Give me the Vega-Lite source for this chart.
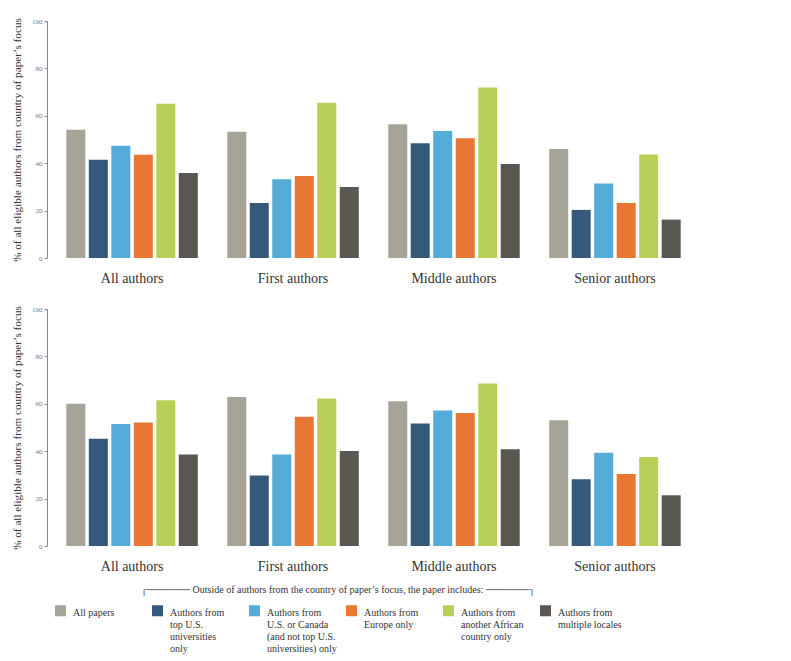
{
  "$schema": "https://vega.github.io/schema/vega-lite/v6.json",
  "background": "white",
  "padding": {"left": 11, "top": 17, "right": 5, "bottom": 5},
  "config": {
    "font": "Liberation Serif",
    "view": {"stroke": null},
    "concat": {"spacing": 20}
  },
  "datasets": {
    "bars": [
      {"panel": "A", "author": "All authors", "series": "All papers", "pct": 54.1},
      {"panel": "A", "author": "All authors", "series": "Authors from top U.S. universities only", "pct": 41.5},
      {"panel": "A", "author": "All authors", "series": "Authors from U.S. or Canada (and not top U.S. universities) only", "pct": 47.4},
      {"panel": "A", "author": "All authors", "series": "Authors from Europe only", "pct": 43.6},
      {"panel": "A", "author": "All authors", "series": "Authors from another African country only", "pct": 65.1},
      {"panel": "A", "author": "All authors", "series": "Authors from multiple locales", "pct": 35.9},
      {"panel": "A", "author": "First authors", "series": "All papers", "pct": 53.3},
      {"panel": "A", "author": "First authors", "series": "Authors from top U.S. universities only", "pct": 23.2},
      {"panel": "A", "author": "First authors", "series": "Authors from U.S. or Canada (and not top U.S. universities) only", "pct": 33.2},
      {"panel": "A", "author": "First authors", "series": "Authors from Europe only", "pct": 34.6},
      {"panel": "A", "author": "First authors", "series": "Authors from another African country only", "pct": 65.5},
      {"panel": "A", "author": "First authors", "series": "Authors from multiple locales", "pct": 30.0},
      {"panel": "A", "author": "Middle authors", "series": "All papers", "pct": 56.4},
      {"panel": "A", "author": "Middle authors", "series": "Authors from top U.S. universities only", "pct": 48.4},
      {"panel": "A", "author": "Middle authors", "series": "Authors from U.S. or Canada (and not top U.S. universities) only", "pct": 53.6},
      {"panel": "A", "author": "Middle authors", "series": "Authors from Europe only", "pct": 50.5},
      {"panel": "A", "author": "Middle authors", "series": "Authors from another African country only", "pct": 71.9},
      {"panel": "A", "author": "Middle authors", "series": "Authors from multiple locales", "pct": 39.7},
      {"panel": "A", "author": "Senior authors", "series": "All papers", "pct": 46.0},
      {"panel": "A", "author": "Senior authors", "series": "Authors from top U.S. universities only", "pct": 20.3},
      {"panel": "A", "author": "Senior authors", "series": "Authors from U.S. or Canada (and not top U.S. universities) only", "pct": 31.4},
      {"panel": "A", "author": "Senior authors", "series": "Authors from Europe only", "pct": 23.2},
      {"panel": "A", "author": "Senior authors", "series": "Authors from another African country only", "pct": 43.7},
      {"panel": "A", "author": "Senior authors", "series": "Authors from multiple locales", "pct": 16.2},
      {"panel": "B", "author": "All authors", "series": "All papers", "pct": 60.0},
      {"panel": "B", "author": "All authors", "series": "Authors from top U.S. universities only", "pct": 45.3},
      {"panel": "B", "author": "All authors", "series": "Authors from U.S. or Canada (and not top U.S. universities) only", "pct": 51.5},
      {"panel": "B", "author": "All authors", "series": "Authors from Europe only", "pct": 52.1},
      {"panel": "B", "author": "All authors", "series": "Authors from another African country only", "pct": 61.5},
      {"panel": "B", "author": "All authors", "series": "Authors from multiple locales", "pct": 38.6},
      {"panel": "B", "author": "First authors", "series": "All papers", "pct": 62.9},
      {"panel": "B", "author": "First authors", "series": "Authors from top U.S. universities only", "pct": 29.7},
      {"panel": "B", "author": "First authors", "series": "Authors from U.S. or Canada (and not top U.S. universities) only", "pct": 38.6},
      {"panel": "B", "author": "First authors", "series": "Authors from Europe only", "pct": 54.5},
      {"panel": "B", "author": "First authors", "series": "Authors from another African country only", "pct": 62.2},
      {"panel": "B", "author": "First authors", "series": "Authors from multiple locales", "pct": 40.1},
      {"panel": "B", "author": "Middle authors", "series": "All papers", "pct": 61.1},
      {"panel": "B", "author": "Middle authors", "series": "Authors from top U.S. universities only", "pct": 51.7},
      {"panel": "B", "author": "Middle authors", "series": "Authors from U.S. or Canada (and not top U.S. universities) only", "pct": 57.2},
      {"panel": "B", "author": "Middle authors", "series": "Authors from Europe only", "pct": 56.1},
      {"panel": "B", "author": "Middle authors", "series": "Authors from another African country only", "pct": 68.6},
      {"panel": "B", "author": "Middle authors", "series": "Authors from multiple locales", "pct": 40.8},
      {"panel": "B", "author": "Senior authors", "series": "All papers", "pct": 53.1},
      {"panel": "B", "author": "Senior authors", "series": "Authors from top U.S. universities only", "pct": 28.2},
      {"panel": "B", "author": "Senior authors", "series": "Authors from U.S. or Canada (and not top U.S. universities) only", "pct": 39.3},
      {"panel": "B", "author": "Senior authors", "series": "Authors from Europe only", "pct": 30.4},
      {"panel": "B", "author": "Senior authors", "series": "Authors from another African country only", "pct": 37.6},
      {"panel": "B", "author": "Senior authors", "series": "Authors from multiple locales", "pct": 21.4}
    ]
  },
  "data": {"name": "bars"},
  "vconcat": [
    {
      "transform": [{"filter": "datum.panel == 'A'"}],
      "width": 653,
      "height": 237,
      "mark": {"type": "bar"},
      "encoding": {
        "x": {"field": "author", "type": "nominal", "sort": ["All authors", "First authors", "Middle authors", "Senior authors"],
          "scale": {"paddingInner": 0.183, "paddingOuter": 0.12},
          "axis": {"title": null, "labelAngle": 0, "domain": false, "ticks": false, "labelFont": "Liberation Serif", "labelFontSize": 14, "labelPadding": 13, "labelColor": "#333"}},
        "xOffset": {"field": "series", "type": "nominal",
          "sort": ["All papers", "Authors from top U.S. universities only", "Authors from U.S. or Canada (and not top U.S. universities) only", "Authors from Europe only", "Authors from another African country only", "Authors from multiple locales"],
          "scale": {"paddingInner": 0.155, "paddingOuter": 0}},
        "y": {"field": "pct", "type": "quantitative", "scale": {"domain": [0, 100]},
          "axis": {"values": [0, 20, 40, 60, 80, 100], "title": "% of all eligible authors from country of paper’s focus", "grid": false,
            "domainColor": "#888", "tickColor": "#888", "tickSize": 3, "labelFont": "Liberation Serif", "labelFontSize": 7, "labelColor": "#777", "labelPadding": 2,
            "titleFont": "Liberation Serif", "titleFontSize": 11.2, "titleFontWeight": "normal", "titleColor": "#333", "titlePadding": 9}},
        "color": {"field": "series", "type": "nominal",
          "scale": {"domain": ["All papers", "Authors from top U.S. universities only", "Authors from U.S. or Canada (and not top U.S. universities) only", "Authors from Europe only", "Authors from another African country only", "Authors from multiple locales"],
            "range": ["#a6a498", "#34597b", "#55acd9", "#e87735", "#b9d058", "#5a5752"]},
          "legend": {
            "title": "┌────── Outside of authors from the country of paper’s focus, the paper includes: ──────┐",
            "orient": "none", "legendX": 8, "legendY": 564,
            "direction": "horizontal", "columns": 6, "gridAlign": "all", "columnPadding": 9,
            "symbolType": "square", "symbolSize": 121, "symbolStrokeWidth": 0, "symbolOpacity": 1,
            "labelFont": "Liberation Serif", "labelFontSize": 10, "labelColor": "#333", "labelOffset": 7, "labelBaseline": "top", "labelLimit": 200,
            "titleFont": "Liberation Serif", "titleFontSize": 10, "titleFontWeight": "normal", "titleColor": "#333", "titleAnchor": "middle", "titlePadding": 10, "titleLimit": 700,
            "labelExpr": "datum.label == 'Authors from top U.S. universities only' ? ['Authors from', 'top U.S.', 'universities', 'only'] : datum.label == 'Authors from U.S. or Canada (and not top U.S. universities) only' ? ['Authors from', 'U.S. or Canada', '(and not top U.S.', 'universities) only'] : datum.label == 'Authors from Europe only' ? ['Authors from', 'Europe only', ' ', ' '] : datum.label == 'Authors from another African country only' ? ['Authors from', 'another African', 'country only', ' '] : datum.label == 'Authors from multiple locales' ? ['Authors from', 'multiple locales', ' ', ' '] : ['All papers', ' ', ' ', ' ']",
            "encode": {"labels": {"update": {"dy": {"value": -3}, "font": {"value": "Liberation Serif"}}}}
          }}
      }
    },
    {
      "transform": [{"filter": "datum.panel == 'B'"}],
      "width": 653,
      "height": 237,
      "mark": {"type": "bar"},
      "encoding": {
        "x": {"field": "author", "type": "nominal", "sort": ["All authors", "First authors", "Middle authors", "Senior authors"],
          "scale": {"paddingInner": 0.183, "paddingOuter": 0.12},
          "axis": {"title": null, "labelAngle": 0, "domain": false, "ticks": false, "labelFont": "Liberation Serif", "labelFontSize": 14, "labelPadding": 13, "labelColor": "#333"}},
        "xOffset": {"field": "series", "type": "nominal",
          "sort": ["All papers", "Authors from top U.S. universities only", "Authors from U.S. or Canada (and not top U.S. universities) only", "Authors from Europe only", "Authors from another African country only", "Authors from multiple locales"],
          "scale": {"paddingInner": 0.155, "paddingOuter": 0}},
        "y": {"field": "pct", "type": "quantitative", "scale": {"domain": [0, 100]},
          "axis": {"values": [0, 20, 40, 60, 80, 100], "title": "% of all eligible authors from country of paper’s focus", "grid": false,
            "domainColor": "#888", "tickColor": "#888", "tickSize": 3, "labelFont": "Liberation Serif", "labelFontSize": 7, "labelColor": "#777", "labelPadding": 2,
            "titleFont": "Liberation Serif", "titleFontSize": 11.2, "titleFontWeight": "normal", "titleColor": "#333", "titlePadding": 9}},
        "color": {"field": "series", "type": "nominal"}
      }
    }
  ]
}
